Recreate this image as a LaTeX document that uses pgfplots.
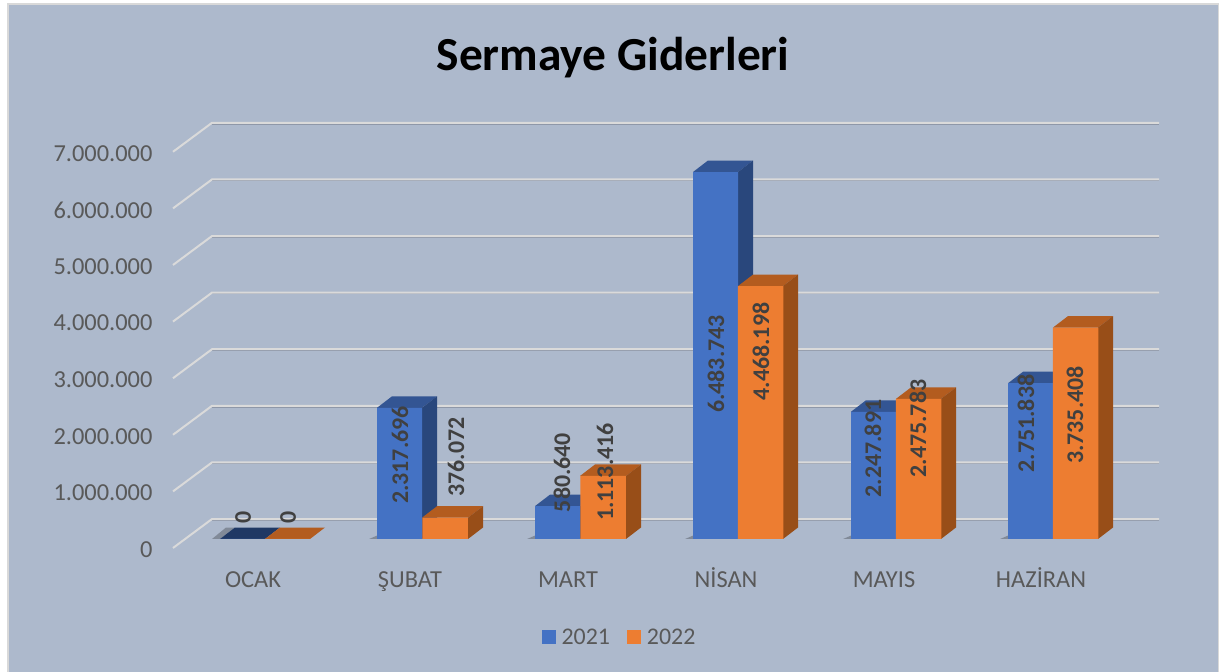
\documentclass[border=0pt]{standalone}
\usepackage{pgfplots}
\pgfplotsset{compat=1.18}
\usepackage{fontspec}
\setmainfont{Carlito}
\definecolor{bgc}{HTML}{ADB9CC}
\definecolor{edgec}{HTML}{D9D9D9}
\definecolor{gridc}{HTML}{DADADA}
\definecolor{grids}{HTML}{8E97A8}
\definecolor{blueF}{HTML}{4472C4}
\definecolor{blueT}{HTML}{335593}
\definecolor{blueS}{HTML}{29477C}
\definecolor{blueO}{HTML}{1F3864}
\definecolor{orF}{HTML}{ED7D31}
\definecolor{orT}{HTML}{B35C1F}
\definecolor{orS}{HTML}{984E18}
\definecolor{tickc}{HTML}{595959}
\definecolor{labc}{HTML}{404040}
\pgfplotstableread[row sep=\\]{
x y t\\
243 389000 0\\
288 389000 0\\
400 1484000 2.317.696\\
456 1449000 376.072\\
562 1175000 580.640\\
605 1184000 1.113.416\\
716 3092000 6.483.743\\
761 3313000 4.468.198\\
873 1599000 2.247.891\\
918 1952000 2.475.783\\
1026 2041000 2.751.838\\
1075 2191000 3.735.408\\
}\labels
\begin{document}
\begin{tikzpicture}[x=1bp,y=1bp]
\begin{axis}[
  scale only axis, width=988bp, height=416bp,
  xmin=172, xmax=1160, ymin=0, ymax=7349823,
  clip=false,
  axis on top,
  axis line style={draw=none},
  major tick length=0pt,
  scaled y ticks=false,
  xtick={265,422,580,738,896,1053},
  xticklabels={OCAK,ŞUBAT,MART,NİSAN,MAYIS,HAZİRAN},
  ytick={0,1000000,2000000,3000000,4000000,5000000,6000000,7000000},
  tick label style={font=\fontsize{24.5}{28}\selectfont,text=tickc},
  xticklabel style={anchor=base,yshift=-48.5bp,xshift=-12bp},
  yticklabel style={anchor=east,xshift=-16bp,yshift=-10.5bp,
    /pgf/number format/fixed,/pgf/number format/1000 sep={.},
    /pgf/number format/assume math mode=true},
  title={\textbf{Sermaye Giderleri}},
  title style={at={(axis description cs:0.4464,1.144)},anchor=center,
    font=\fontsize{47.6}{52}\selectfont,text=black},
  legend columns=2,
  legend cell align=left,
  legend style={at={(axis cs:619.5,-1740000)},anchor=center,draw=none,fill=none,
    font=\fontsize{24}{28}\selectfont,text=tickc,
    /tikz/every even column/.append style={column sep=15bp}},
  sq/.style={legend image code/.code={\fill[##1] (0bp,-7bp) rectangle (14bp,7bp);\path (18bp,0bp);}},
]
% background
\addplot[forget plot,fill=white,draw=none] coordinates {(0,-2349823) (1219,-2349823) (1219,9522968) (0,9522968)} --cycle;
\addplot[forget plot,fill=edgec,draw=none] coordinates {(7.5,-2349823) (1219,-2349823) (1219,9470000) (7.5,9470000)} --cycle;
\addplot[forget plot,fill=bgc,draw=none] coordinates {(9.5,-2349823) (1217.5,-2349823) (1217.5,9434600) (9.5,9434600)} --cycle;
% grid: shadow then line
\addplot[forget plot,draw=grids,line width=1.2bp] coordinates {(212,331000) (1159,331000)};
\addplot[forget plot,draw=grids,line width=1.2bp] coordinates {(212,1331000) (1159,1331000)};
\addplot[forget plot,draw=grids,line width=1.2bp] coordinates {(212,2331000) (1159,2331000)};
\addplot[forget plot,draw=grids,line width=1.2bp] coordinates {(212,3331000) (1159,3331000)};
\addplot[forget plot,draw=grids,line width=1.2bp] coordinates {(212,4331000) (1159,4331000)};
\addplot[forget plot,draw=grids,line width=1.2bp] coordinates {(212,5331000) (1159,5331000)};
\addplot[forget plot,draw=grids,line width=1.2bp] coordinates {(212,6331000) (1159,6331000)};
\addplot[forget plot,draw=grids,line width=1.2bp] coordinates {(212,7331000) (1159,7331000)};
\addplot[forget plot,draw=gridc,line width=2bp] coordinates {(173,-159000) (212,353000) (1159,353000)};
\addplot[forget plot,draw=gridc,line width=2bp] coordinates {(173,841000) (212,1353000) (1159,1353000)};
\addplot[forget plot,draw=gridc,line width=2bp] coordinates {(173,1841000) (212,2353000) (1159,2353000)};
\addplot[forget plot,draw=gridc,line width=2bp] coordinates {(173,2841000) (212,3353000) (1159,3353000)};
\addplot[forget plot,draw=gridc,line width=2bp] coordinates {(173,3841000) (212,4353000) (1159,4353000)};
\addplot[forget plot,draw=gridc,line width=2bp] coordinates {(173,4841000) (212,5353000) (1159,5353000)};
\addplot[forget plot,draw=gridc,line width=2bp] coordinates {(173,5841000) (212,6353000) (1159,6353000)};
\addplot[forget plot,draw=gridc,line width=2bp] coordinates {(173,6841000) (212,7353000) (1159,7353000)};
% base shadows
\addplot[forget plot,fill=black,fill opacity=0.25,draw=none] coordinates {(212,0) (220,0) (235,203000) (226,203000)} --cycle;
\addplot[forget plot,fill=black,fill opacity=0.25,draw=none] coordinates {(369,0) (377,0) (377,60000)} --cycle;
\addplot[forget plot,fill=black,fill opacity=0.25,draw=none] coordinates {(527,0) (535,0) (535,60000)} --cycle;
\addplot[forget plot,fill=black,fill opacity=0.25,draw=none] coordinates {(685,0) (693,0) (693,60000)} --cycle;
\addplot[forget plot,fill=black,fill opacity=0.25,draw=none] coordinates {(843,0) (851,0) (851,60000)} --cycle;
\addplot[forget plot,fill=black,fill opacity=0.25,draw=none] coordinates {(1000,0) (1008,0) (1008,60000)} --cycle;
% 2021 tops and sides
\addplot[forget plot,fill=blueO,draw=none] coordinates {(220,0) (265,0) (280,203000) (235,203000)} --cycle;
\addplot[forget plot,fill=blueT,draw=none] coordinates {(377,2317696) (422,2317696) (437,2520696) (392,2520696)} --cycle;
\addplot[forget plot,fill=blueS,draw=none] coordinates {(422,0) (437,203000) (437,2520696) (422,2317696)} --cycle;
\addplot[forget plot,fill=blueT,draw=none] coordinates {(535,580640) (580,580640) (595,783640) (550,783640)} --cycle;
\addplot[forget plot,fill=blueS,draw=none] coordinates {(580,0) (595,203000) (595,783640) (580,580640)} --cycle;
\addplot[forget plot,fill=blueT,draw=none] coordinates {(693,6483743) (738,6483743) (753,6686743) (708,6686743)} --cycle;
\addplot[forget plot,fill=blueS,draw=none] coordinates {(738,0) (753,203000) (753,6686743) (738,6483743)} --cycle;
\addplot[forget plot,fill=blueT,draw=none] coordinates {(851,2247891) (896,2247891) (911,2450891) (866,2450891)} --cycle;
\addplot[forget plot,fill=blueS,draw=none] coordinates {(896,0) (911,203000) (911,2450891) (896,2247891)} --cycle;
\addplot[forget plot,fill=blueT,draw=none] coordinates {(1008,2751838) (1053,2751838) (1068,2954838) (1023,2954838)} --cycle;
\addplot[forget plot,fill=blueS,draw=none] coordinates {(1053,0) (1068,203000) (1068,2954838) (1053,2751838)} --cycle;
% 2021 fronts
\addplot[ybar,bar width=45,bar shift=0pt,fill=blueF,draw=none,sq] coordinates {(242.5,0) (399.5,2317696) (557.5,580640) (715.5,6483743) (873.5,2247891) (1030.5,2751838)};
\addlegendentry{2021}
% 2022 tops and sides
\addplot[forget plot,fill=orT,draw=none] coordinates {(265,0) (310,0) (325,203000) (280,203000)} --cycle;
\addplot[forget plot,fill=orT,draw=none] coordinates {(422,376072) (468,376072) (483,579072) (437,579072)} --cycle;
\addplot[forget plot,fill=orS,draw=none] coordinates {(468,0) (483,203000) (483,579072) (468,376072)} --cycle;
\addplot[forget plot,fill=orT,draw=none] coordinates {(580,1113416) (626,1113416) (641,1316416) (595,1316416)} --cycle;
\addplot[forget plot,fill=orS,draw=none] coordinates {(626,0) (641,203000) (641,1316416) (626,1113416)} --cycle;
\addplot[forget plot,fill=orT,draw=none] coordinates {(738,4468198) (783,4468198) (798,4671198) (753,4671198)} --cycle;
\addplot[forget plot,fill=orS,draw=none] coordinates {(783,0) (798,203000) (798,4671198) (783,4468198)} --cycle;
\addplot[forget plot,fill=orT,draw=none] coordinates {(896,2475783) (941,2475783) (956,2678783) (911,2678783)} --cycle;
\addplot[forget plot,fill=orS,draw=none] coordinates {(941,0) (956,203000) (956,2678783) (941,2475783)} --cycle;
\addplot[forget plot,fill=orT,draw=none] coordinates {(1053,3735408) (1098,3735408) (1113,3938408) (1068,3938408)} --cycle;
\addplot[forget plot,fill=orS,draw=none] coordinates {(1098,0) (1113,203000) (1113,3938408) (1098,3735408)} --cycle;
% 2022 fronts
\addplot[ybar,bar width=45.5,bar shift=0pt,fill=orF,draw=none,sq] coordinates {(287.5,0) (445,376072) (603,1113416) (760.5,4468198) (918.5,2475783) (1075.5,3735408)};
\addlegendentry{2022}
% data labels
\addplot[forget plot,only marks,mark=none,
  point meta=explicit symbolic,
  nodes near coords,
  every node near coord/.append style={anchor=center,rotate=90,inner sep=0pt,
     font=\fontsize{24}{28}\selectfont\bfseries,text=labc}]
  table[x=x,y=y,meta=t] {\labels};
\end{axis}
\end{tikzpicture}
\end{document}
